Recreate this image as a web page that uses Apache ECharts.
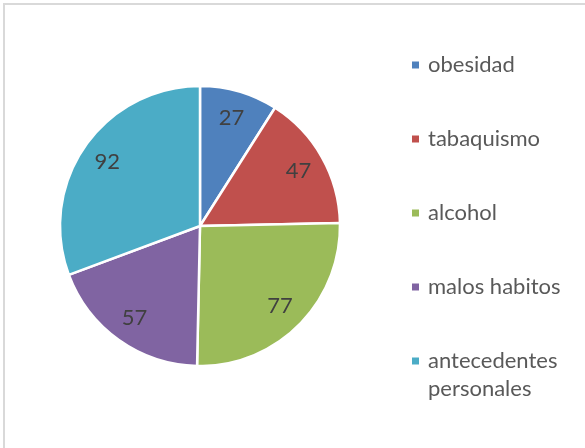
<!DOCTYPE html>
<html><head><meta charset="utf-8">
<script src="https://cdn.jsdelivr.net/npm/echarts@6/dist/echarts.min.js"></script>
<style>html,body{margin:0;padding:0;background:#fff}#c{width:585px;height:448px}</style>
</head><body><div id="c"></div>
<script>
const categories = ['obesidad','tabaquismo','alcohol','malos habitos','antecedentes personales'];
const values = [27, 47, 77, 57, 92];
const colors = ['#4F81BD','#C0504D','#9BBB59','#8064A2','#4BACC6'];

const data = categories.map((c,i)=>({name:c, value:values[i], itemStyle:{color:colors[i]}}));
const chart = echarts.init(document.getElementById('c'), null, {renderer:'canvas'});
const font = 'Lato';
chart.setOption({
  animation:false,
  color: colors,
  graphic:[{type:'rect', shape:{x:4,y:4,width:700,height:600}, style:{fill:'none', stroke:'#d9d9d9', lineWidth:2}, silent:true}],
  legend:[{
    data: categories.slice(0,4),
    orient:'vertical', left:410, top:51, padding:0,
    icon:'rect', itemWidth:9, itemHeight:9, itemGap:46,
    textStyle:{fontFamily:font, fontSize:22, color:'#595959', lineHeight:28, padding:[0,0,0,3]}
  },{
    data: categories.slice(4),
    orient:'vertical', left:410, top:319, padding:0,
    icon:'rect', itemWidth:9, itemHeight:9,
    formatter: n => ' \n' + n.replace(' ', '\n'),
    textStyle:{fontFamily:font, fontSize:22, color:'#595959', lineHeight:28, padding:[0,0,0,3]}
  }],
  series:[{
    type:'pie', center:[200,226], radius:[0,140], startAngle:90, clockwise:true,
    data: data,
    label:{show:false}, labelLine:{show:false},
    itemStyle:{borderColor:'#fff', borderWidth:2.5},
    emphasis:{disabled:true}
  },{
    type:'pie', center:[200,226], radius:[80,140], startAngle:90, clockwise:true,
    data: data.map(d=>({name:d.name, value:d.value})),
    itemStyle:{color:'rgba(0,0,0,0)'}, silent:true,
    label:{show:true, position:'inside', formatter:'{c}', fontFamily:font, fontSize:22, color:'#404040'},
    labelLine:{show:false}, emphasis:{disabled:true}
  }]
});
</script></body></html>
